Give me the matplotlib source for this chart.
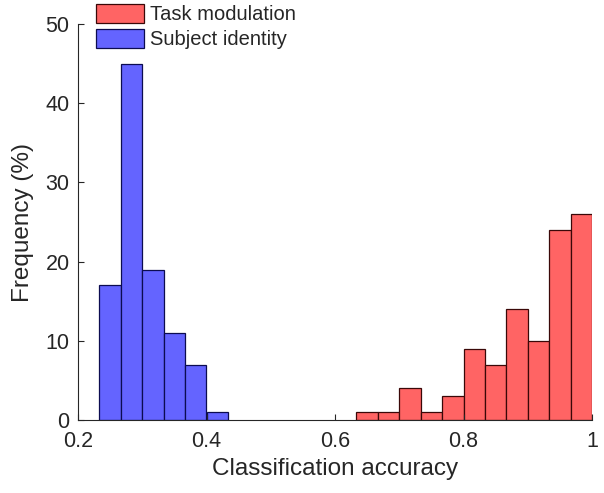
import numpy as np
import matplotlib
matplotlib.use('Agg')
import matplotlib.pyplot as plt

# Histogram data (bin edges in units of 1/30, frequency in %)
subject_edges = [7 / 30, 8 / 30, 9 / 30, 10 / 30, 11 / 30, 12 / 30, 13 / 30]
subject_freq = [17, 45, 19, 11, 7, 1]

task_edges = [19 / 30, 20 / 30, 21 / 30, 22 / 30, 23 / 30, 24 / 30, 25 / 30,
              26 / 30, 27 / 30, 28 / 30, 29 / 30, 30 / 30]
task_freq = [1, 1, 4, 1, 3, 9, 7, 14, 10, 24, 26]

x_ticks = [0.2, 0.4, 0.6, 0.8, 1.0]
x_tick_labels = ['0.2', '0.4', '0.6', '0.8', '1']
y_ticks = [0, 10, 20, 30, 40, 50]

text_color = '#262626'
plt.rcParams['font.family'] = ['Liberation Sans', 'DejaVu Sans']

fig = plt.figure(figsize=(6.04, 4.93), dpi=100)
ax = fig.add_axes([78 / 604, 1 - 420 / 493, (592 - 78) / 604, (420 - 24) / 493])

ax.hist(task_edges[:-1], bins=task_edges, weights=task_freq,
        color='#ff6464', edgecolor='#3a0808', linewidth=0.9, label='Task modulation')
ax.hist(subject_edges[:-1], bins=subject_edges, weights=subject_freq,
        color='#6464ff', edgecolor='#0c0c50', linewidth=0.9, label='Subject identity')

ax.set_xlim(0.2, 1.0)
ax.set_ylim(0, 50)
ax.set_xticks(x_ticks)
ax.set_xticklabels(x_tick_labels)
ax.set_yticks(y_ticks)

ax.spines['top'].set_visible(False)
ax.spines['right'].set_visible(False)
for s in ['left', 'bottom']:
    ax.spines[s].set_color(text_color)
    ax.spines[s].set_linewidth(0.8)
ax.tick_params(direction='in', length=4, width=0.8, colors=text_color,
               labelsize=15.5)
ax.tick_params(axis='x', pad=8)
ax.tick_params(axis='y', pad=6)

ax.set_xlabel('Classification accuracy', fontsize=17.5, color=text_color, labelpad=4)
ax.set_ylabel('Frequency (%)', fontsize=17.5, color=text_color, labelpad=8)

leg = ax.legend(loc='upper left', bbox_to_anchor=(96 / 604, 1 - 4 / 493),
                bbox_transform=fig.transFigure, frameon=False, fontsize=14.5,
                handlelength=2.4, handleheight=1.05, handletextpad=0.3,
                labelspacing=0.25, borderpad=0, borderaxespad=0)
for t in leg.get_texts():
    t.set_color(text_color)

fig.savefig('out.png', dpi=100)
